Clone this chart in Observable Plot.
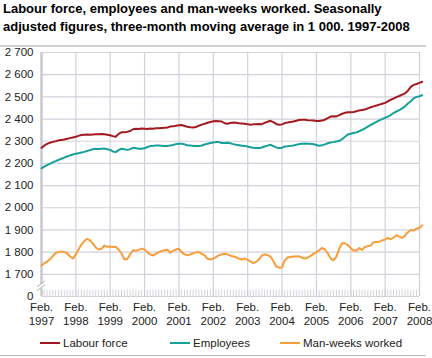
<!DOCTYPE html>
<html>
<head>
<meta charset="utf-8">
<script src="https://cdn.jsdelivr.net/npm/d3@7"></script>
<script src="https://cdn.jsdelivr.net/npm/@observablehq/plot@0.6"></script>
<style>
  body { margin: 0; background: #fff; font-family: "Liberation Sans", Arial, sans-serif; }
  #wrap { position: relative; width: 432px; height: 358px; overflow: hidden; }
  #title { position: absolute; left: 3px; top: 0px; font-weight: bold; font-size: 13px; line-height: 18px; color: #000; white-space: nowrap; }
  #rule1 { position: absolute; left: 0; top: 45px; width: 426px; height: 2px; background: #cfcfcf; }
  #chart { position: absolute; left: 0; top: 40px; }
  #legend { position: absolute; left: 0; top: 335px; width: 432px; height: 16px; font-size: 11.5px; color: #222; }
  .li { position: absolute; top: 0; display: flex; align-items: center; height: 16px; }
  .sw { display: inline-block; width: 20px; height: 2px; margin-right: 3px; }
  #rule2 { position: absolute; left: 0; top: 355px; width: 426px; height: 1px; background: #b8b8b8; }
</style>
</head>
<body>
<div id="wrap">
  <div id="title">Labour force, employees and man-weeks worked. Seasonally<br>adjusted figures, three-month moving average in 1 000. 1997-2008</div>
  <div id="chart"></div>
  <div id="rule1"></div>
  <div id="legend"></div>
  <div id="rule2"></div>
</div>
<script>
// Monthly series, Feb 1997 .. Mar 2008 (thousands)
const startYear = 1997, startMonth = 1; // February
const labourForce = [
2270,2280,2288,2293,2297,2300,2304,2306,2308,2311,2314,2317,
2320,2324,2328,2329,2330,2329,2330,2331,2332,2333,2331,2329,
2327,2323,2320,2333,2340,2341,2342,2346,2354,2356,2355,2357,
2356,2355,2357,2356,2358,2359,2360,2361,2362,2366,2367,2370,
2372,2373,2369,2365,2363,2362,2364,2370,2375,2379,2383,2387,
2390,2391,2390,2389,2381,2379,2382,2384,2383,2381,2380,2379,
2377,2374,2376,2377,2378,2377,2383,2388,2392,2386,2378,2374,
2376,2382,2384,2387,2389,2392,2396,2397,2397,2395,2394,2393,
2391,2391,2393,2397,2404,2411,2413,2412,2418,2424,2428,2431,
2431,2432,2435,2439,2441,2443,2448,2453,2457,2461,2465,2469,
2473,2480,2487,2492,2499,2504,2510,2516,2528,2545,2554,2558,
2563,2568];
const employees = [
2178,2185,2192,2198,2205,2210,2216,2221,2226,2231,2236,2240,
2244,2246,2249,2252,2256,2260,2264,2266,2265,2266,2267,2264,
2261,2254,2251,2260,2266,2264,2261,2264,2270,2269,2266,2266,
2268,2274,2278,2279,2281,2281,2280,2279,2279,2281,2283,2287,
2289,2289,2286,2282,2281,2279,2278,2278,2281,2285,2289,2292,
2294,2296,2296,2292,2292,2293,2291,2287,2284,2282,2280,2278,
2276,2273,2271,2270,2269,2272,2276,2280,2284,2278,2272,2269,
2271,2276,2277,2279,2281,2284,2287,2289,2290,2289,2289,2286,
2283,2280,2282,2286,2291,2294,2296,2299,2302,2309,2320,2330,
2334,2337,2340,2345,2351,2358,2366,2374,2380,2387,2394,2400,
2406,2411,2418,2427,2434,2440,2448,2458,2470,2480,2493,2500,
2503,2507];
const manWeeks = [
1740,1749,1757,1768,1782,1796,1800,1803,1800,1795,1781,1771,
1790,1812,1834,1850,1860,1853,1838,1820,1812,1815,1830,1824,
1825,1823,1824,1812,1795,1768,1768,1790,1808,1806,1810,1816,
1812,1800,1790,1785,1792,1800,1805,1809,1811,1797,1806,1812,
1815,1800,1790,1786,1790,1795,1799,1800,1792,1785,1770,1767,
1771,1778,1786,1790,1793,1790,1785,1780,1777,1770,1767,1771,
1765,1758,1751,1756,1767,1785,1790,1787,1780,1760,1735,1730,
1731,1763,1776,1778,1780,1780,1781,1775,1771,1776,1783,1792,
1800,1808,1819,1812,1795,1772,1763,1780,1815,1840,1840,1832,
1818,1808,1806,1818,1810,1823,1827,1830,1845,1846,1847,1853,
1857,1864,1858,1866,1876,1870,1864,1875,1890,1900,1897,1906,
1910,1921];

const seriesNames = ["Labour force", "Employees", "Man-weeks worked"];
const seriesColors = ["#a3191f", "#15a09a", "#f99d3a"];
const yTicks = [1600,1700,1800,1900,2000,2100,2200,2300,2400,2500,2600,2700];
const yTickLabels = ["0","1 700","1 800","1 900","2 000","2 100","2 200","2 300","2 400","2 500","2 600","2 700"];
const xTickYears = [1997,1998,1999,2000,2001,2002,2003,2004,2005,2006,2007,2008];
const xTickPrefix = "Feb.";

const monthDate = i => new Date(Date.UTC(startYear, startMonth + i, 1));
const rows = [];
[labourForce, employees, manWeeks].forEach((arr, s) => {
  arr.forEach((v, i) => rows.push({series: seriesNames[s], date: monthDate(i), value: v}));
});
const febs = xTickYears.map(y => new Date(Date.UTC(y, 1, 1)));
const months = d3.range(0, labourForce.length - 1).map(monthDate);
const yLabel = new Map(yTicks.map((t, i) => [t, yTickLabels[i]]));

// axis-break marks drawn with the scales
const breakMark = (index, scales, values, dims) => {
  const g = d3.create("svg:g");
  const x0 = scales.x(febs[0]);
  const yb = scales.y(1655);
  g.append("rect").attr("x", x0 - 3).attr("y", yb + 0.5).attr("width", 6).attr("height", 4).attr("fill", "#fff");
  [0, 4].forEach(off => {
    g.append("line").attr("x1", x0 - 4).attr("x2", x0 + 4)
      .attr("y1", yb + off + 3).attr("y2", yb + off - 3)
      .attr("stroke", "#b0b0b0").attr("stroke-width", 1);
  });
  return g.node();
};

const chart = Plot.plot({
  width: 432,
  height: 288,
  marginLeft: 41,
  marginRight: 13,
  marginTop: 12,
  marginBottom: 32,
  style: {fontFamily: "'Liberation Sans', Arial, sans-serif", fontSize: "11px", color: "#222", background: "none"},
  x: {type: "utc", domain: [febs[0], febs[febs.length - 1]]},
  y: {domain: [1600, 2700]},
  color: {domain: seriesNames, range: seriesColors},
  marks: [
    Plot.ruleY(yTicks.slice(1), {stroke: "#d2d2da", strokeWidth: 1.2}),
    Plot.ruleX(febs.slice(1), {y1: 1600, y2: 2700, stroke: "#d2d2da", strokeWidth: 1.2}),
    Plot.ruleX(months, {y1: 1600, y2: 1628, stroke: "#c8c8d0", strokeWidth: 0.8}),
    Plot.ruleY([1600], {stroke: "#d2d2da", strokeWidth: 1.2}),
    Plot.ruleX([febs[0]], {y1: 1600, y2: 2700, stroke: "#c8c8d0", strokeWidth: 2.5}),
    Plot.line(rows, {x: "date", y: "value", z: "series", stroke: "series", strokeWidth: 2}),
    Plot.axisY({ticks: yTicks, tickSize: 0, tickPadding: 8, tickFormat: d => yLabel.get(d), fontSize: 11.5, label: null}),
    Plot.axisX({ticks: febs, tickSize: 0, tickPadding: 5, tickFormat: d => xTickPrefix + "\n" + d.getUTCFullYear(), lineHeight: 1.2, fontSize: 11.5, label: null}),
    breakMark
  ]
});
document.getElementById("chart").appendChild(chart);

const legendX = [40, 170, 280];
const legend = document.getElementById("legend");
seriesNames.forEach((n, i) => {
  const el = document.createElement("div");
  el.className = "li";
  el.style.left = legendX[i] + "px";
  el.innerHTML = `<span class="sw" style="background:${seriesColors[i]}"></span><span>${n}</span>`;
  legend.appendChild(el);
});
</script>
</body>
</html>
